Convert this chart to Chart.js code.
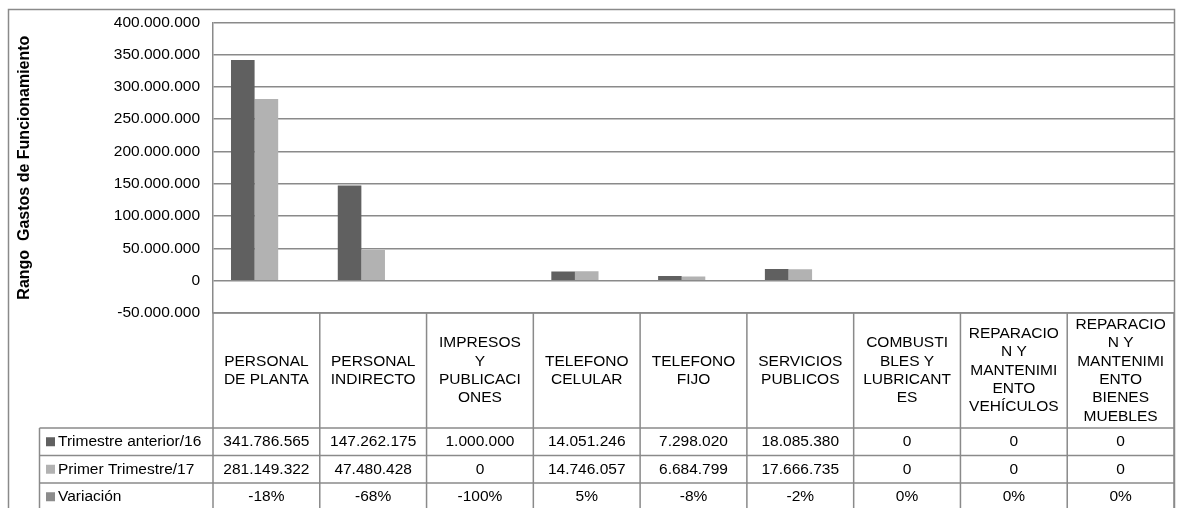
<!DOCTYPE html>
<html>
<head>
<script src="https://cdn.jsdelivr.net/npm/chart.js@4/dist/chart.umd.min.js"></script>
<style>
    body { margin: 0; background: #fff; }
</style>
</head>
<body>
<canvas id="myChart" width="1177" height="508"></canvas>

<script>
    // categories, as Excel wrapped them in the header of the data table
    var categories = [
        ['PERSONAL', 'DE PLANTA'],
        ['PERSONAL', 'INDIRECTO'],
        ['IMPRESOS', 'Y', 'PUBLICACI', 'ONES'],
        ['TELEFONO', 'CELULAR'],
        ['TELEFONO', 'FIJO'],
        ['SERVICIOS', 'PUBLICOS'],
        ['COMBUSTI', 'BLES Y', 'LUBRICANT', 'ES'],
        ['REPARACIO', 'N Y', 'MANTENIMI', 'ENTO', 'VEHÍCULOS'],
        ['REPARACIO', 'N Y', 'MANTENIMI', 'ENTO', 'BIENES', 'MUEBLES']
    ];
    var seriesNames = ['Trimestre anterior/16', 'Primer Trimestre/17', 'Variación'];
    var trimestreAnterior = [341786565, 147262175, 1000000, 14051246, 7298020, 18085380, 0, 0, 0];
    var primerTrimestre = [281149322, 47480428, 0, 14746057, 6684799, 17666735, 0, 0, 0];
    var variacion = [-18, -68, -100, 5, -8, -2, 0, 0, 0]; // in %
    var seriesColors = ['#606060', '#b2b2b2', '#8c8c8c'];
    var yMin = -50000000, yMax = 400000000, yStep = 50000000;
    var yTitle = 'Rango  Gastos de Funcionamiento';

    var font = '"Liberation Sans", Arial, sans-serif';
    var lineColor = '#8a8a8a';

    function miles(v) {
        var s = Math.abs(v).toString().replace(/\B(?=(\d{3})+(?!\d))/g, '.');
        return (v < 0 ? '-' : '') + s;
    }

    // frame round the whole chart
    var framePlugin = {
        id: 'frame',
        beforeDraw: function (chart) {
            var ctx = chart.ctx;
            ctx.save();
            ctx.strokeStyle = lineColor;
            ctx.lineWidth = 1.5;
            ctx.strokeRect(8.5, 9.5, 1166, 560);
            ctx.restore();
        }
    };

    // data table under the plot, columns taken from the x scale
    var tablePlugin = {
        id: 'datatable',
        afterDraw: function (chart) {
            var ctx = chart.ctx;
            var area = chart.chartArea;
            var xs = chart.scales.x;
            var colW = (area.right - area.left) / categories.length;
            var headTop = area.bottom;
            var headBottom = headTop + 115;
            var rowH = 27.5;
            var labelLeft = 39.5;
            var rows = [
                trimestreAnterior.map(miles),
                primerTrimestre.map(miles),
                variacion.map(function (v) { return v + '%'; })
            ];
            var tableBottom = headBottom + rowH * rows.length;

            ctx.save();
            ctx.strokeStyle = lineColor;
            ctx.lineWidth = 1.5;
            ctx.beginPath();
            // top of header
            ctx.moveTo(area.left, headTop);
            ctx.lineTo(area.right, headTop);
            // row lines
            for (var r = 0; r <= rows.length; r++) {
                var y = headBottom + r * rowH;
                ctx.moveTo(labelLeft, y);
                ctx.lineTo(area.right, y);
            }
            // column lines
            ctx.moveTo(labelLeft, headBottom);
            ctx.lineTo(labelLeft, tableBottom);
            for (var i = 0; i <= categories.length; i++) {
                var x = (i < categories.length ? xs.getPixelForValue(i) - colW / 2 : area.right);
                ctx.moveTo(x, headTop);
                ctx.lineTo(x, tableBottom);
            }
            ctx.stroke();

            ctx.fillStyle = '#000';
            ctx.font = '15.5px ' + font;
            ctx.textAlign = 'center';
            ctx.textBaseline = 'middle';
            var lineH = 18.3;
            var headMid = (headTop + headBottom) / 2;
            categories.forEach(function (lines, i) {
                var cx = xs.getPixelForValue(i);
                var y0 = headMid - (lines.length - 1) * lineH / 2;
                lines.forEach(function (t, k) {
                    ctx.fillText(t, cx, y0 + k * lineH);
                });
            });

            rows.forEach(function (vals, r) {
                var cy = headBottom + r * rowH + rowH / 2;
                ctx.fillStyle = seriesColors[r];
                ctx.fillRect(46, cy - 4.5, 9, 9);
                ctx.fillStyle = '#000';
                ctx.textAlign = 'left';
                ctx.fillText(seriesNames[r], 58, cy);
                ctx.textAlign = 'center';
                vals.forEach(function (t, i) {
                    ctx.fillText(t, xs.getPixelForValue(i), cy);
                });
            });
            ctx.restore();
        }
    };

    var ctx = document.getElementById('myChart').getContext('2d');
    var barChart = new Chart(ctx, {
        type: 'bar',
        data: {
            labels: categories,
            datasets: [
                { label: seriesNames[0], data: trimestreAnterior, backgroundColor: seriesColors[0] },
                { label: seriesNames[1], data: primerTrimestre, backgroundColor: seriesColors[1] },
                // the % series sits on the same axis, so its bars are too small to see
                { label: seriesNames[2], data: variacion.map(function (v) { return v / 100; }), backgroundColor: 'rgba(0,0,0,0)' }
            ]
        },
        options: {
            responsive: false,
            animation: false,
            datasets: { bar: { categoryPercentage: 0.663, barPercentage: 1, borderWidth: 0, inflateAmount: 0 } },
            layout: { padding: { left: 8, top: 19, right: 3, bottom: 195 } },
            plugins: { legend: { display: false }, tooltip: { enabled: false } },
            scales: {
                x: {
                    grid: { display: false, drawTicks: false },
                    border: { display: false },
                    ticks: { display: false },
                    afterFit: function (s) { s.height = 0; }
                },
                y: {
                    min: yMin,
                    max: yMax,
                    ticks: {
                        stepSize: yStep,
                        padding: 13,
                        color: '#000',
                        font: { family: font, size: 15.5 },
                        callback: function (v) { return miles(v); }
                    },
                    grid: { color: lineColor, lineWidth: 1.5, drawTicks: false },
                    border: { display: true, color: lineColor, width: 1.5 },
                    title: {
                        display: true,
                        text: yTitle,
                        color: '#000',
                        padding: { top: 7, bottom: 0 },
                        font: { family: font, size: 16, weight: 'bold' }
                    },
                    afterFit: function (s) { s.width = 205; }
                }
            }
        },
        plugins: [framePlugin, tablePlugin]
    });
</script>
</body>
</html>
